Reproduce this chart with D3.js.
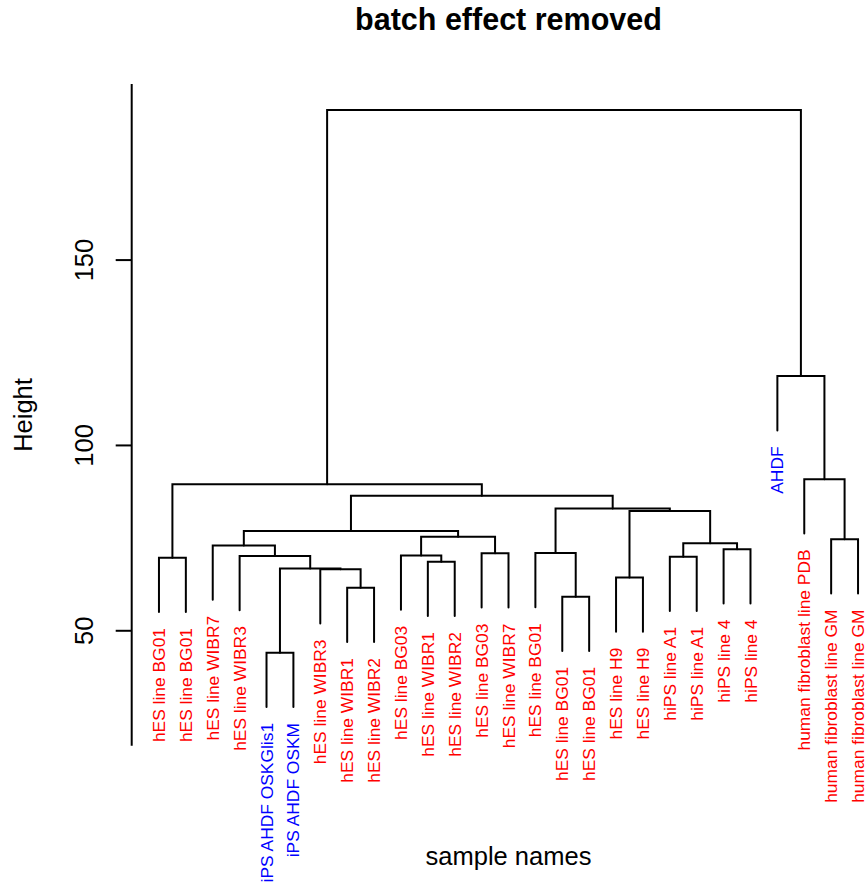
<!DOCTYPE html>
<html>
<head>
<meta charset="utf-8">
<script src="https://cdn.jsdelivr.net/npm/d3@7"></script>
<style>
  body { margin: 0; background: #fff; }
  text { font-family: "Liberation Sans", Arial, sans-serif; }
</style>
</head>
<body>
<script>
// leaves, in the order they are drawn
var leafLabels = ["hES line BG01", "hES line BG01", "hES line WIBR7", "hES line WIBR3",
  "iPS AHDF OSKGlis1", "iPS AHDF OSKM", "hES line WIBR3", "hES line WIBR1", "hES line WIBR2",
  "hES line BG03", "hES line WIBR1", "hES line WIBR2", "hES line BG03", "hES line WIBR7",
  "hES line BG01", "hES line BG01", "hES line BG01", "hES line H9", "hES line H9",
  "hiPS line A1", "hiPS line A1", "hiPS line 4", "hiPS line 4", "AHDF",
  "human fibroblast line PDB", "human fibroblast line GM", "human fibroblast line GM"];
var leafColors = ["red", "red", "red", "red", "blue", "blue", "red", "red", "red",
  "red", "red", "red", "red", "red", "red", "red", "red", "red", "red",
  "red", "red", "red", "red", "blue", "red", "red", "red"];

// merge table like R's hclust: negative = leaf number, positive = earlier merge
var mergeLeft  = [-5, -16, -8, -18, -7, 1, -11, -1, -20, -4, -10, -13, -15, -22, -3, 9, -26, 11, 15, 4, 13, 19, 8, -25, -24, 23];
var mergeRight = [-6, -17, -9, -19, 3, 5, -12, -2, -21, 6, 7, -14, 2, -23, 10, 14, -27, 12, 18, 16, 20, 21, 22, 17, 24, 25];
var mergeHeight = [44.1, 59.2, 61.6, 64.4, 66.6, 66.8, 68.6, 69.7, 70.0, 70.2, 70.3, 70.9, 71.0, 72.0,
  73.0, 73.6, 74.7, 75.4, 76.9, 82.3, 83.0, 86.4, 89.5, 90.9, 118.7, 190.5];

var yTicks = [50, 100, 150];

var width = 865, height = 888;
var svg = d3.select("body").append("svg")
    .attr("width", width)
    .attr("height", height);

var n = leafLabels.length;
var x = d3.scaleLinear().domain([1 - 0.04 * (n - 1), n + 0.04 * (n - 1)]).range([131, 886]);
var y = d3.scaleLinear().domain([19, 197.5]).range([745.7, 84]);

var hang = 0.1 * (d3.max(mergeHeight) - d3.min(mergeHeight));

// position of every merge: x = middle of its two children
var nodeX = [];
function childX(c) { return c < 0 ? x(-c) : nodeX[c - 1]; }
function childH(c, h) { return c < 0 ? h - hang : mergeHeight[c - 1]; }
mergeHeight.forEach(function(h, i) {
  nodeX[i] = (childX(mergeLeft[i]) + childX(mergeRight[i])) / 2;
});

// tree segments
svg.append("g")
  .selectAll("path")
  .data(mergeHeight)
  .enter()
  .append("path")
  .attr("fill", "none")
  .attr("stroke", "black")
  .attr("stroke-width", 2)
  .attr("stroke-linecap", "round")
  .attr("d", function(h, i) {
    var l = mergeLeft[i], r = mergeRight[i];
    return "M" + childX(l) + "," + y(childH(l, h)) +
      "V" + y(h) + "H" + childX(r) + "V" + y(childH(r, h));
  });

// leaf heights (bottom of each hanging stub)
var leafH = [];
mergeHeight.forEach(function(h, i) {
  if (mergeLeft[i] < 0) leafH[-mergeLeft[i] - 1] = h - hang;
  if (mergeRight[i] < 0) leafH[-mergeRight[i] - 1] = h - hang;
});

// leaf labels
svg.append("g")
  .selectAll("text")
  .data(leafLabels)
  .enter()
  .append("text")
  .attr("transform", function(d, i) {
    return "translate(" + x(i + 1) + "," + (y(leafH[i]) + 16) + ") rotate(-90)";
  })
  .attr("dy", "0.35em")
  .attr("text-anchor", "end")
  .attr("font-size", "17.4px")
  .attr("fill", function(d, i) { return leafColors[i]; })
  .text(function(d) { return d; });

// y axis
var axis = svg.append("g")
  .attr("transform", "translate(131.7,0)")
  .call(d3.axisLeft(y).tickValues(yTicks).tickSize(16).tickSizeOuter(0).offset(0));
axis.selectAll("path, line").attr("stroke", "black").attr("stroke-width", 2);
axis.selectAll("text")
  .attr("transform", "rotate(-90)")
  .attr("x", 0)
  .attr("y", -38.5)
  .attr("dy", 0)
  .attr("text-anchor", "middle")
  .attr("fill", "black")
  .style("font-size", "25.5px")
  .style("font-family", "'Liberation Sans', Arial, sans-serif");

// titles
svg.append("text")
  .attr("x", 508.5)
  .attr("y", 30)
  .attr("text-anchor", "middle")
  .attr("font-size", "30.5px")
  .attr("font-weight", "bold")
  .text("batch effect removed");

svg.append("text")
  .attr("x", 508.5)
  .attr("y", 865)
  .attr("text-anchor", "middle")
  .attr("font-size", "25.5px")
  .text("sample names");

svg.append("text")
  .attr("transform", "translate(32,415) rotate(-90)")
  .attr("text-anchor", "middle")
  .attr("font-size", "25.5px")
  .text("Height");
</script>
</body>
</html>
